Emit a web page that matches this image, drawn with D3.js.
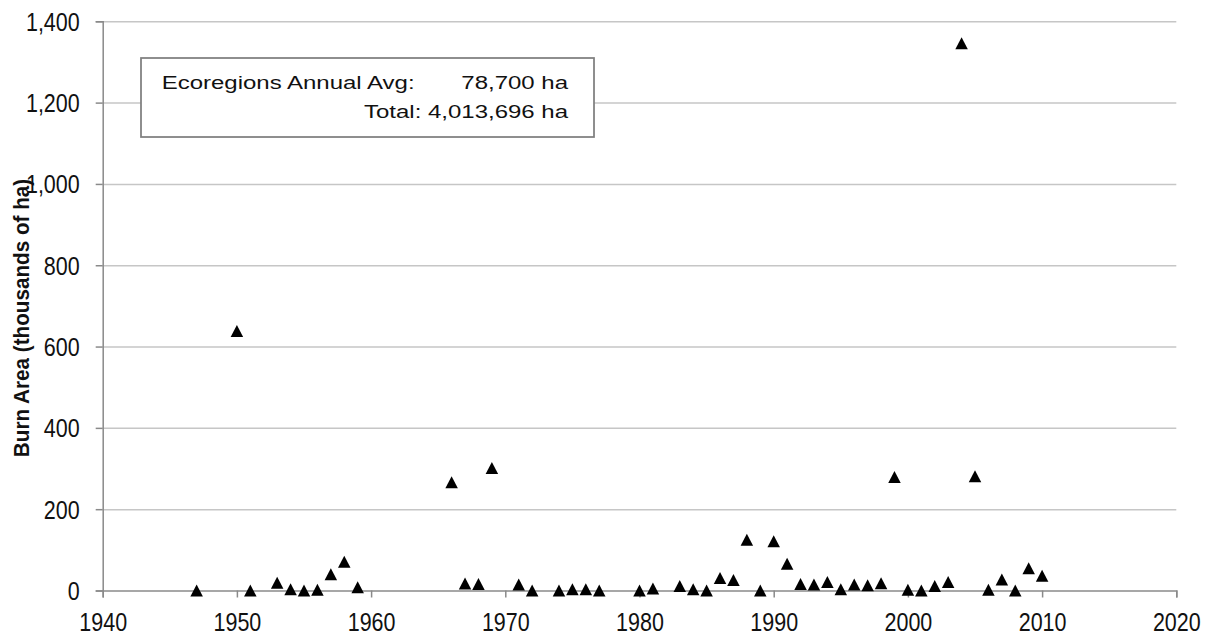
<!DOCTYPE html>
<html>
<head>
<meta charset="utf-8">
<script src="https://cdnjs.cloudflare.com/ajax/libs/d3/7.8.5/d3.min.js"></script>
<style>
  html, body { margin: 0; padding: 0; background: #fff; }
  svg { display: block; font-family: "Liberation Sans", Arial, sans-serif; }
</style>
</head>
<body>
<svg id="chart" width="1211" height="637"></svg>
<script>
// ---- data ----
const years = [1947, 1950, 1951, 1953, 1954, 1955, 1956, 1957, 1958, 1959,
  1966, 1967, 1968, 1969, 1971, 1972, 1974, 1975, 1976, 1977,
  1980, 1981, 1983, 1984, 1985, 1986, 1987, 1988, 1989, 1990,
  1991, 1992, 1993, 1994, 1995, 1996, 1997, 1998, 1999, 2000,
  2001, 2002, 2003, 2004, 2005, 2006, 2007, 2008, 2009, 2010];
const burnArea = [0, 638, 0, 19, 3, 0, 2, 40, 71, 8,
  266, 17, 16, 301, 15, 0, 0, 3, 3, 0,
  0, 5, 11, 3, 0, 31, 26, 125, 0, 121,
  66, 16, 15, 21, 3, 15, 13, 18, 279, 2,
  0, 11, 21, 1346, 281, 2, 27, 0, 55, 36];
const xTicks = [1940, 1950, 1960, 1970, 1980, 1990, 2000, 2010, 2020];
const yTicks = [0, 200, 400, 600, 800, 1000, 1200, 1400];
const yTitle = "Burn Area (thousands of ha)";
const legendLine1 = "Ecoregions Annual Avg:";
const legendValue1 = "78,700 ha";
const legendLine2 = "Total: 4,013,696 ha";

// ---- layout ----
const svg = d3.select("#chart");
const L = 102.7, R = 1176.3, T = 21.3, B = 590.5;
const x = d3.scaleLinear().domain([1940, 2020]).range([L, R]);
const y = d3.scaleLinear().domain([0, 1400]).range([B, T]);

// gridlines
svg.append("g")
  .attr("transform", `translate(${L},0)`)
  .call(d3.axisLeft(y).tickValues(yTicks.filter(d => d > 0)).tickSize(-(R - L)).tickFormat(""))
  .call(g => g.select(".domain").remove())
  .call(g => g.selectAll("line").attr("stroke", "#c6c6c6").attr("stroke-width", 1.5));

// y axis
const tickFont = 21.5, tickStretch = 1.17;
svg.append("g")
  .attr("transform", `translate(${L},0)`)
  .call(d3.axisLeft(y).tickValues(yTicks).tickSize(7).tickPadding(16).tickFormat(d3.format(",")))
  .call(g => g.select(".domain").attr("stroke", "#8a8a8a").attr("stroke-width", 1.5))
  .call(g => g.selectAll("line").attr("stroke", "#8a8a8a").attr("stroke-width", 1.5))
  .call(g => g.selectAll("text")
    .attr("font-size", tickFont).attr("fill", "#111")
    .attr("font-family", "Liberation Sans, Arial, sans-serif")
    .attr("dy", "0.355em")
    .attr("transform", `scale(1,${tickStretch})`));

// x axis
svg.append("g")
  .attr("transform", `translate(0,${B})`)
  .call(d3.axisBottom(x).tickValues(xTicks).tickSize(7).tickFormat(d3.format("d")))
  .call(g => g.select(".domain").attr("stroke", "#8a8a8a").attr("stroke-width", 1.5))
  .call(g => g.selectAll("line").attr("stroke", "#8a8a8a").attr("stroke-width", 1.5))
  .call(g => g.selectAll("text")
    .attr("font-size", tickFont).attr("fill", "#111")
    .attr("font-family", "Liberation Sans, Arial, sans-serif")
    .attr("dy", null)
    .attr("y", 40.5 / tickStretch)
    .attr("transform", `scale(1,${tickStretch})`));

// y title (slightly condensed along its length)
svg.append("text")
  .attr("transform", "translate(28.5,318) rotate(-90) scale(0.94,1)")
  .attr("text-anchor", "middle")
  .attr("font-size", 22)
  .attr("font-weight", "bold")
  .attr("fill", "#111")
  .text(yTitle);

// markers: triangles centred on their bounding box
const triW = 12.5, triH = 12;
const triangle = {
  draw(ctx) {
    ctx.moveTo(0, -triH / 2);
    ctx.lineTo(triW / 2, triH / 2);
    ctx.lineTo(-triW / 2, triH / 2);
    ctx.closePath();
  }
};
svg.append("g")
  .selectAll("path")
  .data(years.map((yr, i) => ({ yr, v: burnArea[i] })))
  .join("path")
  .attr("transform", d => `translate(${x(d.yr)},${y(d.v)})`)
  .attr("d", d3.symbol().type(triangle)())
  .attr("fill", "#000");

// legend box
const lg = svg.append("g");
lg.append("rect")
  .attr("x", 141).attr("y", 58).attr("width", 453).attr("height", 79)
  .attr("fill", "#fff").attr("stroke", "#7f7f7f").attr("stroke-width", 1.75);
const legFont = 24, legStretch = 0.79;
function legText(txt, px, py, anchor) {
  lg.append("text")
    .attr("transform", `translate(${px},${py}) scale(1,${legStretch})`)
    .attr("text-anchor", anchor)
    .attr("font-size", legFont)
    .attr("fill", "#111")
    .text(txt);
}
legText(legendLine1, 161.7, 89, "start");
legText(legendValue1, 568, 89, "end");
legText(legendLine2, 568, 117.7, "end");
</script>
</body>
</html>
